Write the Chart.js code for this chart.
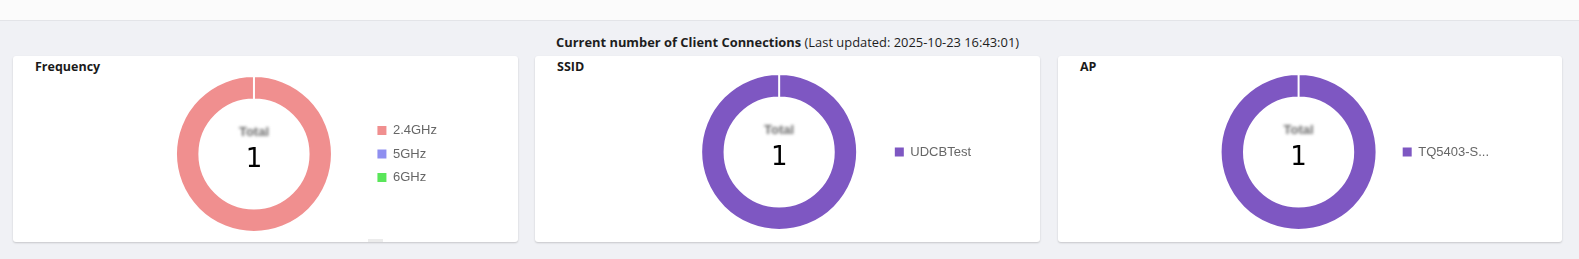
<!DOCTYPE html>
<html>
<head>
<meta charset="utf-8">
<script src="https://cdn.jsdelivr.net/npm/chart.js@4/dist/chart.umd.min.js"></script>
<style>
  html, body { margin: 0; padding: 0; }
  body {
    width: 1579px; height: 259px; overflow: hidden; position: relative;
    background: #f0f1f5;
    font-family: "Open Sans", "Noto Sans", sans-serif;
  }
  .topbar {
    position: absolute; left: 0; top: 0; width: 1579px; height: 20px;
    background: #fbfbfb; border-bottom: 1px solid #e3e4e8;
  }
  .heading {
    position: absolute; left: 556px; top: 34px; white-space: nowrap;
    font-size: 12.9px; color: #1e1e1e; line-height: 16px;
  }
  .heading b { font-weight: 700; }
  .card {
    position: absolute; top: 56px; height: 186px; background: #fff;
    border-radius: 3px; box-shadow: 0 1px 2px rgba(0,0,0,0.18);
  }
  .card h3 {
    position: absolute; left: 22px; top: 3px; margin: 0;
    font-size: 12.5px; font-weight: 700; color: #1a1a1a; line-height: 16px;
  }
  .card canvas { position: absolute; }
  .tab {
    position: absolute; left: 355px; top: 183px; width: 15px; height: 3px; background: #ececec;
  }
</style>
</head>
<body>
<div class="topbar"></div>
<div class="heading"><b>Current number of Client Connections</b> (Last updated: 2025-10-23 16:43:01)</div>

<div class="card" style="left:13px;width:505px;">
  <h3>Frequency</h3>
  <canvas id="freqChart" width="306" height="158" style="left:128px;top:19px;"></canvas>
  <div class="tab"></div>
</div>
<div class="card" style="left:535px;width:505px;">
  <h3>SSID</h3>
  <canvas id="ssidChart" width="307" height="158" style="left:139px;top:17px;"></canvas>
</div>
<div class="card" style="left:1058px;width:504px;">
  <h3>AP</h3>
  <canvas id="apChart" width="294" height="158" style="left:147px;top:17px;"></canvas>
</div>

<script>
// Client connection counts per category
const freqLabels = ['2.4GHz', '5GHz', '6GHz'];
const freqCounts = [1, 0, 0];
const ssidLabels = ['UDCBTest'];
const ssidCounts = [1];
const apLabels = ['TQ5403-S...'];
const apCounts = [1];

// Slice colours
const freqColors = ['#f08f8f', '#8f8ff0', '#5ae65a'];
const ssidColors = ['#7e57c2'];
const apColors = ['#7e57c2'];

const centerCaption = 'Total';

// Writes the caption and the total count in the doughnut hole
const centerTotal = {
  id: 'centerTotal',
  afterDraw(chart) {
    const arc = chart.getDatasetMeta(0).data[0];
    if (!arc) return;
    const total = chart.data.datasets[0].data.reduce((a, b) => a + b, 0);
    const ctx = chart.ctx;
    ctx.save();
    ctx.textAlign = 'center';
    ctx.textBaseline = 'middle';
    ctx.filter = 'blur(1.5px)';
    ctx.fillStyle = '#6a6a6a';
    ctx.font = 'bold 13px "Liberation Sans", Arial, sans-serif';
    ctx.fillText(centerCaption, arc.x, arc.y - 22);
    ctx.filter = 'none';
    ctx.fillStyle = '#000';
    ctx.font = '26px "DejaVu Sans", sans-serif';
    ctx.fillText(String(total), arc.x, arc.y + 6);
    ctx.restore();
  }
};

function makeDoughnut(id, labels, values, colors) {
  return new Chart(document.getElementById(id), {
    type: 'doughnut',
    data: {
      labels: labels,
      datasets: [{
        data: values,
        backgroundColor: colors,
        borderColor: '#fff',
        borderWidth: 2,
        hoverOffset: 0,
        hoverBorderWidth: 2
      }]
    },
    options: {
      responsive: false,
      animation: false,
      cutout: '70%',
      layout: { padding: 0 },
      plugins: {
        tooltip: { enabled: false },
        legend: {
          position: 'right',
          align: 'center',
          labels: {
            boxWidth: 9,
            boxHeight: 9,
            padding: 10.5,
            color: '#666',
            font: { family: '"Liberation Sans", Arial, sans-serif', size: 13 },
            generateLabels(chart) {
              const base = Chart.overrides.doughnut.plugins.legend.labels.generateLabels(chart);
              return base.map(item => Object.assign({}, item, { lineWidth: 0 }));
            }
          }
        }
      }
    },
    plugins: [centerTotal]
  });
}

makeDoughnut('freqChart', freqLabels, freqCounts, freqColors);
makeDoughnut('ssidChart', ssidLabels, ssidCounts, ssidColors);
makeDoughnut('apChart', apLabels, apCounts, apColors);
</script>
</body>
</html>
